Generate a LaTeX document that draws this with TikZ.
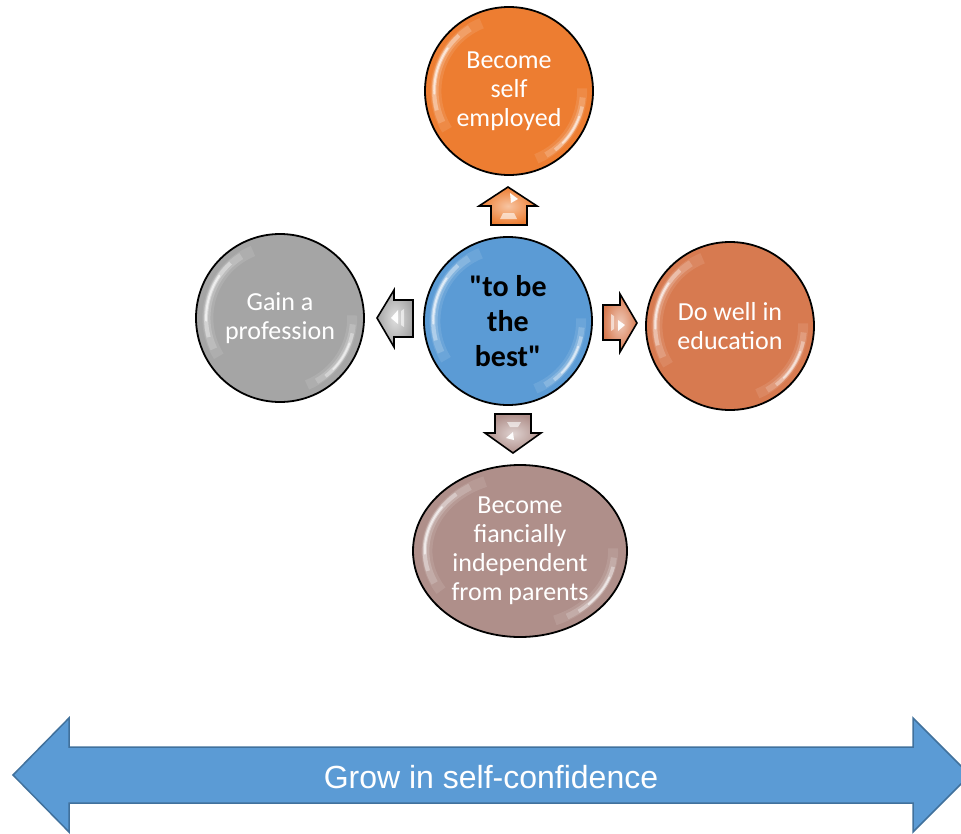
\documentclass[tikz,border=0pt]{standalone}
\usepackage{fontspec}
\setmainfont{Carlito}[Ligatures=TeXOff]
\newfontfamily\arialf{Liberation Sans}
\usetikzlibrary{shapes.geometric}
\definecolor{cOrange}{HTML}{ED7D31}
\definecolor{cBlue}{HTML}{5B9BD5}
\definecolor{cGray}{HTML}{A5A5A5}
\definecolor{cRust}{HTML}{D77A50}
\definecolor{cRose}{HTML}{AF8F8A}
\definecolor{cBorder}{HTML}{41719C}
\newcommand{\glossarc}[7]{% name, rx, ry, factor, start, end, style
  \draw[#7] (#1.center) ++(#5:{#4*#2} and {#4*#3})
    arc[start angle=#5, end angle=#6, x radius={#4*#2}, y radius={#4*#3}];}
\newcommand{\glossy}[3]{%
  \glossarc{#1}{#2}{#3}{0.87}{212}{112}{white, opacity=.10, line width=11pt}
  \glossarc{#1}{#2}{#3}{0.88}{205}{122}{white, opacity=.18, line width=7pt}
  \glossarc{#1}{#2}{#3}{0.89}{195}{132}{white, opacity=.35, line width=4pt}
  \glossarc{#1}{#2}{#3}{0.89}{182}{145}{white, opacity=.6, line width=2pt, line cap=round}
  \glossarc{#1}{#2}{#3}{0.87}{2}{-68}{white, opacity=.10, line width=10pt}
  \glossarc{#1}{#2}{#3}{0.88}{-5}{-60}{white, opacity=.18, line width=6pt}
  \glossarc{#1}{#2}{#3}{0.89}{-12}{-52}{white, opacity=.35, line width=3.5pt}
  \glossarc{#1}{#2}{#3}{0.89}{-20}{-44}{white, opacity=.55, line width=1.8pt, line cap=round}
}
\begin{document}
\begin{tikzpicture}[x=1pt,y=-1pt,
  circ/.style={circle, draw=black, line width=1.8pt, minimum size=168pt, inner sep=0pt,
    text=white, align=center, font=\fontsize{26}{29}\selectfont},
  blockarr/.style={draw=black, line width=1.6pt, line join=miter},
  glint/.style={fill=white, opacity=.95},
  softglint/.style={fill=white, opacity=.6}]
\useasboundingbox (0,0) rectangle (961,833);
\clip (0,0) rectangle (961,833);

% circles
\node[circ, fill=cOrange] (self) at (509,91) {Become\\self\\employed};
\node[circ, fill=cBlue, text=black, font=\fontsize{30}{35}\selectfont\bfseries] (best) at (508,321) {"to be\\the\\best"};
\node[circ, fill=cGray] (prof) at (280,318) {Gain a\\profession};
\node[circ, fill=cRust] (edu) at (730,326) {Do well in\\education};
\node[circ, ellipse, minimum width=214pt, minimum height=172pt, fill=cRose] (indep) at (520,551) {Become\\fiancially\\independent\\from parents};

\glossy{self}{84pt}{84pt}
\glossy{best}{84pt}{84pt}
\glossy{prof}{83pt}{83pt}
\glossy{edu}{84pt}{84pt}
\glossy{indep}{107pt}{86pt}

% block arrows
\shadedraw[blockarr, inner color=cOrange!45!white, outer color=cOrange]
  (491,225) -- (491,206) -- (479,206) -- (508,187) -- (537,206) -- (527,206) -- (527,225) -- cycle;
\fill[glint] (510,193) -- (518,199) -- (511,203) -- cycle;
\fill[softglint] (503,213) -- (514,213) -- (517,219) -- (500,219) -- cycle;

\shadedraw[blockarr, inner color=cGray!35!white, outer color=cGray]
  (413,300) -- (394,300) -- (394,290) -- (377,318) -- (394,347) -- (394,337) -- (413,337) -- cycle;
\fill[glint] (398,310) -- (398,324) -- (391,318) -- cycle;
\fill[softglint] (401,311) -- (404,309) -- (404,327) -- (401,325) -- cycle;

\shadedraw[blockarr, inner color=cRust!40!white, outer color=cRust]
  (603,305) -- (620,305) -- (620,294) -- (637,323) -- (620,352) -- (620,340) -- (603,340) -- cycle;
\fill[glint] (618,320) -- (625,325) -- (618,331) -- cycle;
\fill[softglint] (611,314) -- (614,316) -- (614,329) -- (611,331) -- cycle;

\shadedraw[blockarr, inner color=cRose!40!white, outer color=cRose]
  (495,414) -- (531,414) -- (531,433) -- (541,433) -- (513,453) -- (485,433) -- (495,433) -- cycle;
\fill[softglint] (507,422) -- (521,422) -- (518,427) -- (510,427) -- cycle;
\fill[glint] (513,432) -- (506,438) -- (514,440) -- cycle;

% bottom double arrow
\path[draw=cBorder, line width=1.5pt, fill=cBlue, line join=miter]
  (13,775) -- (69,718) -- (69,747) -- (913,747) -- (913,718) -- (970,775)
  -- (913,832) -- (913,803) -- (69,803) -- (69,832) -- cycle;
\node[text=white, font=\arialf\fontsize{32}{36}\selectfont] (grow) at (491,777) {Grow in self-confidence};
\end{tikzpicture}
\end{document}
